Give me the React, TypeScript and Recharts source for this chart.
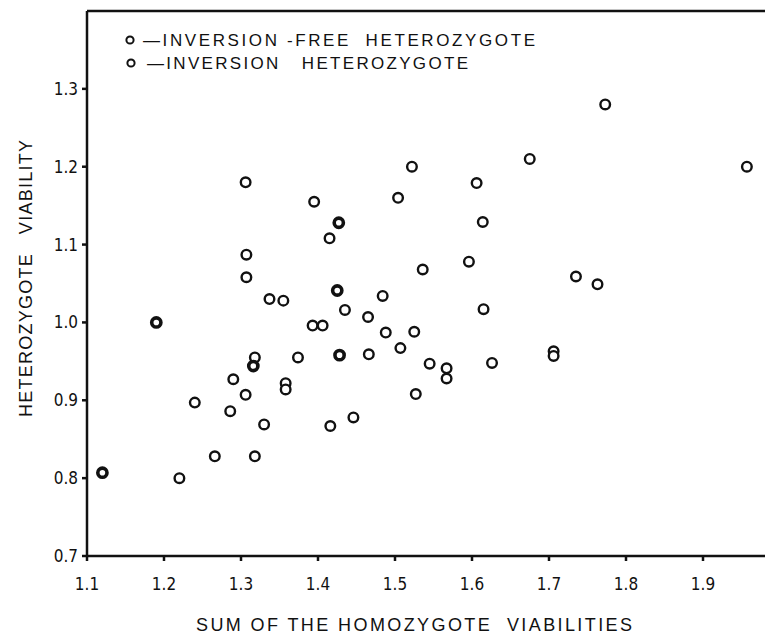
import React from "react";
import { ScatterChart, Scatter, XAxis, YAxis, ReferenceLine } from "recharts";

// Inversion-free heterozygotes
const freeX = [1.12, 1.19, 1.316, 1.428, 1.425, 1.427];
const freeY = [0.807, 1.0, 0.944, 0.958, 1.041, 1.128];

// Inversion heterozygotes
const invX = [
  1.22, 1.24, 1.266, 1.286, 1.29, 1.306, 1.318, 1.318, 1.33, 1.358, 1.358, 1.374,
  1.416, 1.446, 1.466, 1.507, 1.527, 1.525, 1.488, 1.545, 1.567, 1.567, 1.626,
  1.706, 1.706, 1.393, 1.406, 1.465, 1.435, 1.484, 1.337, 1.355, 1.307, 1.307,
  1.415, 1.395, 1.306, 1.504, 1.522, 1.606, 1.614, 1.536, 1.596, 1.615, 1.735,
  1.763, 1.675, 1.773, 1.957,
];
const invY = [
  0.8, 0.897, 0.828, 0.886, 0.927, 0.907, 0.955, 0.828, 0.869, 0.922, 0.914, 0.955,
  0.867, 0.878, 0.959, 0.967, 0.908, 0.988, 0.987, 0.947, 0.941, 0.928, 0.948,
  0.963, 0.957, 0.996, 0.996, 1.007, 1.016, 1.034, 1.03, 1.028, 1.058, 1.087,
  1.108, 1.155, 1.18, 1.16, 1.2, 1.179, 1.129, 1.068, 1.078, 1.017, 1.059,
  1.049, 1.21, 1.28, 1.2,
];

const xTicks = [1.1, 1.2, 1.3, 1.4, 1.5, 1.6, 1.7, 1.8, 1.9];
const yTicks = [0.7, 0.8, 0.9, 1.0, 1.1, 1.2, 1.3];

const legendLabels = ["—INVERSION -FREE  HETEROZYGOTE", "—INVERSION   HETEROZYGOTE"];
const xTitle = "SUM OF THE HOMOZYGOTE  VIABILITIES";
const yTitle = "HETEROZYGOTE   VIABILITY";

const freeData = freeX.map((x, i) => ({ x, y: freeY[i] }));
const invData = invX.map((x, i) => ({ x, y: invY[i] }));

const FONT = "'Liberation Sans', Arial, sans-serif";
const TICKFONT = "'DejaVu Sans Condensed', 'Liberation Sans', sans-serif";

const OpenDot = (p: any) => (
  <circle cx={p.cx} cy={p.cy} r={4.8} fill="#fff" stroke="#111" strokeWidth={2.4} />
);
const DarkDot = (p: any) => (
  <circle cx={p.cx} cy={p.cy} r={4.6} fill="#fff" stroke="#111" strokeWidth={3.6} />
);

export default function App() {
  const tickStyle = { fontSize: 17, fill: "#111", fontFamily: TICKFONT };
  return (
    <div
      style={{
        position: "relative",
        margin: -8,
        width: 773,
        height: 640,
        overflow: "hidden",
        background: "#fff",
      }}
    >
      <ScatterChart
        width={800}
        height={640}
        margin={{ top: 11, right: 20, left: 37, bottom: 54 }}
      >
        <XAxis
          type="number"
          dataKey="x"
          domain={[1.1, 2.0]}
          ticks={xTicks}
          allowDataOverflow
          tickFormatter={(v: number) => v.toFixed(1)}
          tick={tickStyle}
          stroke="#111"
          strokeWidth={2.5}
          tickSize={5}
          tickMargin={17}
          height={30}
        />
        <YAxis
          type="number"
          dataKey="y"
          domain={[0.7, 1.4]}
          ticks={yTicks}
          allowDataOverflow
          tickFormatter={(v: number) => v.toFixed(1)}
          tick={tickStyle}
          stroke="#111"
          strokeWidth={2.5}
          tickSize={5}
          tickMargin={4}
          width={50}
        />
        <ReferenceLine y={1.4} stroke="#111" strokeWidth={2.5} />
        <Scatter data={invData} shape={OpenDot} isAnimationActive={false} />
        <Scatter data={freeData} shape={DarkDot} isAnimationActive={false} />
      </ScatterChart>
      <svg
        width={773}
        height={640}
        style={{ position: "absolute", left: 0, top: 0, pointerEvents: "none", whiteSpace: "pre" }}
      >
        <g fontFamily={FONT} fill="#111">
          <circle cx={130} cy={40} r={3.6} fill="#fff" stroke="#111" strokeWidth={2} />
          <text x={143} y={46} fontSize={17} textLength={392} lengthAdjust="spacing" xmlSpace="preserve">
            {legendLabels[0]}
          </text>
          <circle cx={131} cy={63} r={3.6} fill="#fff" stroke="#111" strokeWidth={2} />
          <text x={147} y={69} fontSize={17} textLength={321} lengthAdjust="spacing" xmlSpace="preserve">
            {legendLabels[1]}
          </text>
          <text x={196} y={631} fontSize={18} textLength={436} lengthAdjust="spacing" xmlSpace="preserve">
            {xTitle}
          </text>
          <text
            x={0}
            y={0}
            fontSize={18}
            textLength={277}
            lengthAdjust="spacing"
            xmlSpace="preserve"
            transform="translate(32,417) rotate(-90)"
          >
            {yTitle}
          </text>
        </g>
      </svg>
    </div>
  );
}
